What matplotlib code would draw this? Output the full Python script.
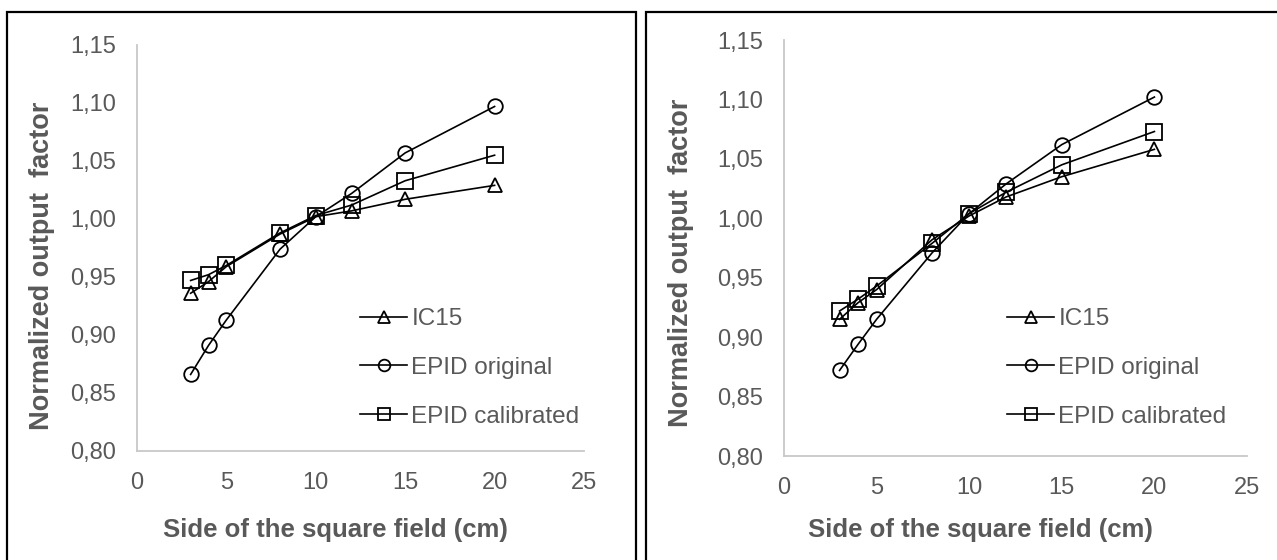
import matplotlib
matplotlib.use("Agg")
import matplotlib.pyplot as plt
from matplotlib.patches import Rectangle
from matplotlib.ticker import FuncFormatter

plt.rcParams['font.family'] = ['Liberation Sans', 'DejaVu Sans']

field_sizes = [3, 4, 5, 8, 10, 12, 15, 20]

left_ic15 = [0.936, 0.946, 0.959, 0.987, 1.002, 1.007, 1.017, 1.029]
left_epid_original = [0.866, 0.891, 0.913, 0.974, 1.002, 1.022, 1.057, 1.097]
left_epid_calibrated = [0.947, 0.952, 0.960, 0.988, 1.003, 1.012, 1.033, 1.055]

right_ic15 = [0.915, 0.929, 0.940, 0.982, 1.002, 1.018, 1.035, 1.058]
right_epid_original = [0.872, 0.894, 0.915, 0.971, 1.004, 1.029, 1.062, 1.102]
right_epid_calibrated = [0.922, 0.932, 0.943, 0.979, 1.004, 1.022, 1.045, 1.073]

series_labels = ["IC15", "EPID original", "EPID calibrated"]
series_markers = ["^", "o", "s"]

x_ticks = [0, 5, 10, 15, 20, 25]
y_ticks = [0.80, 0.85, 0.90, 0.95, 1.00, 1.05, 1.10, 1.15]
x_label = "Side of the square field (cm)"
y_label = "Normalized output  factor"

TXT = "#595959"
AX = "#c8c8c8"

W, H = 1277, 560
fig = plt.figure(figsize=(W / 100, H / 100), dpi=100)

# panel borders
fig.add_artist(Rectangle((6.5 / W, -0.05), (636 - 6.5) / W, 1.05 - 11.5 / H,
                         transform=fig.transFigure, fill=False, ec="black", lw=1.6))
fig.add_artist(Rectangle((646 / W, -0.05), 0.5, 1.05 - 11.5 / H,
                         transform=fig.transFigure, fill=False, ec="black", lw=1.6))


def make_panel(rect, data, ylab_xy, xlab_xy, leg_anchor):
    ax = fig.add_axes(rect)
    for vals, lab, mk in zip(data, series_labels, series_markers):
        ax.plot(field_sizes, vals, color="black", lw=1.2, marker=mk,
                markersize=10.5 if mk != "s" else 11, mfc="none", mec="black",
                mew=1.3, label=lab)
    ax.set_xlim(0, 25)
    ax.set_ylim(0.80, 1.15)
    ax.set_xticks(x_ticks)
    ax.set_yticks(y_ticks)
    ax.yaxis.set_major_formatter(FuncFormatter(lambda v, p: f"{v:.2f}".replace(".", ",")))
    ax.tick_params(length=0, labelsize=17, labelcolor=TXT)
    ax.tick_params(axis="y", pad=15)
    ax.tick_params(axis="x", pad=15)
    for s in ("top", "right"):
        ax.spines[s].set_visible(False)
    for s in ("left", "bottom"):
        ax.spines[s].set_color(AX)
        ax.spines[s].set_linewidth(1.3)
    ax.set_xlabel(x_label, fontsize=18.5, fontweight="bold", color=TXT)
    ax.set_ylabel(y_label, fontsize=19.5, fontweight="bold", color=TXT)
    ax.yaxis.set_label_coords(*ylab_xy)
    ax.xaxis.set_label_coords(*xlab_xy)
    leg = ax.legend(loc="upper left", bbox_to_anchor=leg_anchor,
                    bbox_transform=fig.transFigure, frameon=False,
                    fontsize=17.5, handlelength=1.95, handletextpad=0.16,
                    labelspacing=1.1, markerscale=0.8, borderpad=0, borderaxespad=0)
    for t in leg.get_texts():
        t.set_color(TXT)
    return ax


make_panel([137 / W, 1 - 451 / H, (584 - 137) / W, (451 - 45) / H],
           [left_ic15, left_epid_original, left_epid_calibrated],
           (-0.184, 0.455), (0.445, -0.165), (360 / W, 1 - 308 / H))
make_panel([784 / W, 1 - 456 / H, (1247 - 784) / W, (456 - 40) / H],
           [right_ic15, right_epid_original, right_epid_calibrated],
           (-0.194, 0.465), (0.425, -0.15), (1007 / W, 1 - 308 / H))

fig.savefig("out.png", dpi=100)
